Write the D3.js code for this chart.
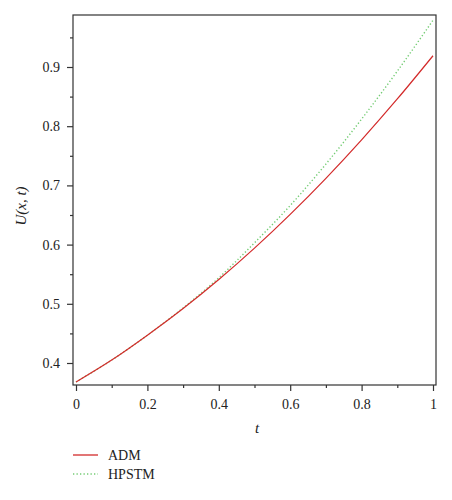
<!DOCTYPE html>
<html>
<head>
<meta charset="utf-8">
<script src="https://cdn.jsdelivr.net/npm/d3@7"></script>
<style>
  body { margin: 0; background: #fff; }
  svg text { font-family: "Liberation Serif", "DejaVu Serif", serif; fill: #222; }
</style>
</head>
<body>
<div id="chart"></div>
<script>
// values
var tVals = [0, 0.1, 0.2, 0.3, 0.4, 0.5, 0.6, 0.7, 0.8, 0.9, 1];
var admVals = [0.368, 0.405, 0.447, 0.492, 0.541, 0.594, 0.651, 0.712, 0.777, 0.846, 0.919];
var hpstmVals = [0.368, 0.405, 0.447, 0.493, 0.544, 0.603, 0.666, 0.736, 0.812, 0.893, 0.979];
var xTicks = [0, 0.2, 0.4, 0.6, 0.8, 1];
var yTicks = [0.4, 0.5, 0.6, 0.7, 0.8, 0.9];
var seriesNames = ["ADM", "HPSTM"];

var w = 452;
var h = 500;
var pl = 73, pr = 436, pt = 15, pb = 385;
var serif = "'Liberation Serif', 'DejaVu Serif', serif";

const svg = d3.select("#chart").append("svg")
  .attr("width", w)
  .attr("height", h);

const x = d3.scaleLinear().domain([0, 1]).range([76, 433]);
const y = d3.scaleLinear().domain([0.4, 0.9]).range([363, 67]);

// frame
svg.append("rect")
  .attr("x", pl).attr("y", pt)
  .attr("width", pr - pl).attr("height", pb - pt)
  .attr("fill", "none")
  .attr("stroke", "#333")
  .attr("stroke-width", 1.2);

// x axis: major ticks + minor ticks
const xAxis = d3.axisBottom(x).tickValues(xTicks).tickSize(6).tickPadding(8)
  .tickFormat(d => d === 0 || d === 1 ? d3.format("d")(d) : d3.format(".1f")(d));
const xMinor = d3.axisBottom(x).tickValues([0.1, 0.3, 0.5, 0.7, 0.9]).tickSize(3).tickFormat("");

svg.append("g").attr("class", "axis").attr("transform", `translate(0,${pb})`).call(xAxis);
svg.append("g").attr("class", "axis").attr("transform", `translate(0,${pb})`).call(xMinor);

// y axis
const yAxis = d3.axisLeft(y).tickValues(yTicks).tickSize(6).tickPadding(7)
  .tickFormat(d3.format(".1f"));
const yMinor = d3.axisLeft(y).tickValues([0.45, 0.55, 0.65, 0.75, 0.85, 0.95]).tickSize(3).tickFormat("");

svg.append("g").attr("class", "axis").attr("transform", `translate(${pl},0)`).call(yAxis);
svg.append("g").attr("class", "axis").attr("transform", `translate(${pl},0)`).call(yMinor);

svg.selectAll(".domain").remove();
svg.selectAll(".axis").attr("font-family", null);
svg.selectAll(".tick line").attr("stroke", "#333").attr("stroke-width", 1.2);
svg.selectAll(".tick text")
  .style("font-family", serif)
  .style("font-size", "14px")
  .attr("fill", "#222");

// axis titles
svg.append("text")
  .attr("x", 257).attr("y", 433)
  .attr("text-anchor", "middle")
  .style("font-family", serif)
  .style("font-size", "15px")
  .style("font-style", "italic")
  .text("t");

svg.append("text")
  .attr("transform", "translate(26,206) rotate(-90)")
  .attr("text-anchor", "middle")
  .style("font-family", serif)
  .style("font-size", "15px")
  .style("font-style", "italic")
  .text("U(x, t)");

// curves
const line = d3.line()
  .x((d, i) => x(tVals[i]))
  .y(d => y(d))
  .curve(d3.curveMonotoneX);

svg.append("path")
  .datum(hpstmVals)
  .attr("d", line)
  .attr("fill", "none")
  .attr("stroke", "#74cc74")
  .attr("stroke-width", 1.4)
  .attr("stroke-dasharray", "1.3,2.2");

svg.append("path")
  .datum(admVals)
  .attr("d", line)
  .attr("fill", "none")
  .attr("stroke", "#d32a2a")
  .attr("stroke-width", 1.2);

// legend
var legendStyles = [
  { color: "#d32a2a", dash: null },
  { color: "#74cc74", dash: "1.3,2.2" }
];
const items = svg.append("g").selectAll("g")
  .data(seriesNames)
  .enter()
  .append("g")
  .attr("transform", (d, i) => `translate(73,${455 + i * 19})`);

items.append("line")
  .attr("x1", 0).attr("x2", 25)
  .attr("stroke", (d, i) => legendStyles[i].color)
  .attr("stroke-width", 1.3)
  .attr("stroke-dasharray", (d, i) => legendStyles[i].dash);

items.append("text")
  .attr("x", 35).attr("y", 5)
  .style("font-family", serif)
  .style("font-size", "14px")
  .text(d => d);
</script>
</body>
</html>
